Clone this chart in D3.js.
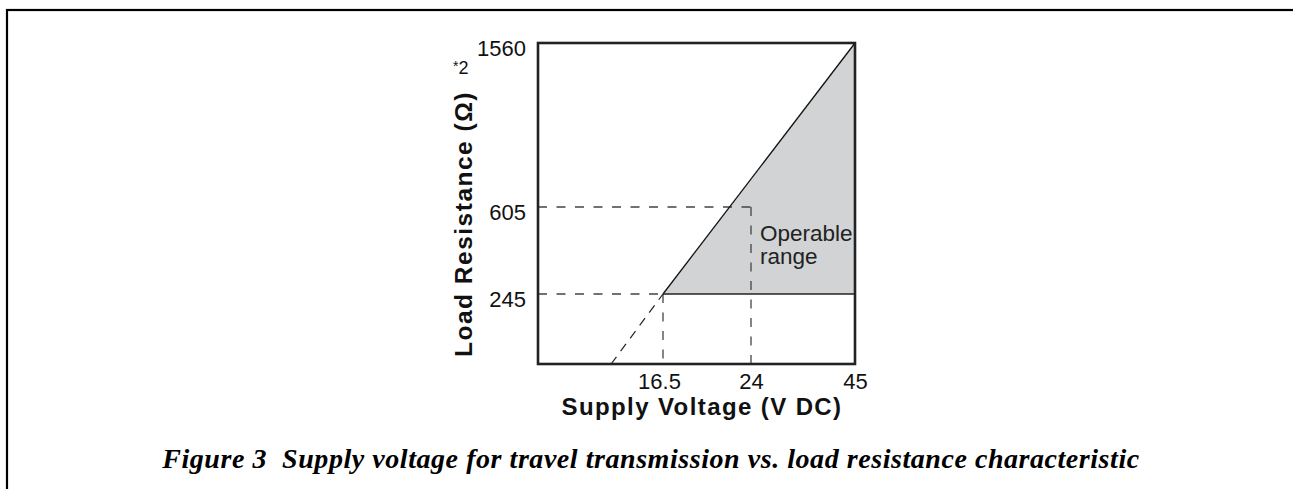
<!DOCTYPE html>
<html>
<head>
<meta charset="utf-8">
<script src="https://cdn.jsdelivr.net/npm/d3@7"></script>
<style>
  body { margin: 0; background: #fff; }
  svg { display: block; }
  .tick text { font-family: "Liberation Sans", Arial, sans-serif; }
  .caption { white-space: pre; }
</style>
</head>
<body>
<svg id="chart" width="1293" height="489"></svg>
<script>
// values (axes are schematic, not linear)
const voltTicks = [16.5, 24, 45];
const resTicks = [245, 605, 1560];
const solidLine = [[16.5, 245], [45, 1560]];
const dashExt = [[13.8, 0], [16.5, 245]];
const operable = [[16.5, 245], [45, 1560], [45, 245]];
const guideH = [[10, 605, 24], [10, 245, 16.5]];  // from x0 to x1 at R
const guideV = [[24, 605], [16.5, 245]];          // down to R=0

const svg = d3.select('#chart');

// outer frame
svg.append('rect')
  .attr('x', 7).attr('y', 10)
  .attr('width', 1320).attr('height', 520)
  .attr('fill', 'none').attr('stroke', '#000').attr('stroke-width', 2.2);

// piecewise scales, one segment between each labelled value
const x = d3.scaleLinear().domain([10, 16.5, 24, 45]).range([538, 663, 751, 855]);
const y = d3.scaleLinear().domain([0, 245, 605, 1560]).range([364, 294, 207, 43]);

const g = svg.append('g');

g.append('path')
  .datum(operable)
  .attr('d', d3.line().x(d => x(d[0])).y(d => y(d[1])))
  .attr('fill', '#d1d3d4');

const line = d3.line().x(d => x(d[0])).y(d => y(d[1]));

// dashed guides
const dash = '9,9.5';
guideH.forEach(d => {
  g.append('line')
    .attr('x1', x(d[0])).attr('x2', x(d[2]))
    .attr('y1', y(d[1])).attr('y2', y(d[1]))
    .attr('stroke', '#444').attr('stroke-width', 1.3).attr('stroke-dasharray', dash);
});
guideV.forEach(d => {
  g.append('line')
    .attr('x1', x(d[0])).attr('x2', x(d[0]))
    .attr('y1', y(d[1])).attr('y2', y(0))
    .attr('stroke', '#444').attr('stroke-width', 1.3).attr('stroke-dasharray', dash);
});
g.append('path').datum(dashExt).attr('d', line)
  .attr('fill', 'none').attr('stroke', '#222').attr('stroke-width', 1.2)
  .attr('stroke-dasharray', '9,7');

// boundary lines
g.append('path').datum(solidLine).attr('d', line)
  .attr('fill', 'none').attr('stroke', '#111').attr('stroke-width', 1.3);
g.append('line')
  .attr('x1', x(16.5)).attr('x2', x(45))
  .attr('y1', y(245)).attr('y2', y(245))
  .attr('stroke', '#222').attr('stroke-width', 1.5);

// plot box
g.append('rect')
  .attr('x', x(10)).attr('y', y(1560))
  .attr('width', x(45) - x(10)).attr('height', y(0) - y(1560))
  .attr('fill', 'none').attr('stroke', '#222').attr('stroke-width', 2.6);

// axes (labels only)
const xAxis = g.append('g')
  .attr('transform', 'translate(0,' + y(0) + ')')
  .call(d3.axisBottom(x).tickValues(voltTicks).tickSize(0).tickPadding(0).tickFormat(d => d));
xAxis.select('.domain').remove();
xAxis.selectAll('text')
  .attr('y', 25).attr('dy', 0)
  .attr('font-size', 22).attr('fill', '#111')
  .attr('dx', d => d === 16.5 ? -4 : 0);

const yAxis = g.append('g')
  .attr('transform', 'translate(' + x(10) + ',0)')
  .call(d3.axisLeft(y).tickValues(resTicks).tickSize(0).tickPadding(12).tickFormat(d => d));
yAxis.select('.domain').remove();
yAxis.selectAll('text')
  .attr('dy', '0.55em')
  .attr('font-size', 22).attr('fill', '#111');

// axis titles
svg.append('text')
  .attr('x', 702).attr('y', 415)
  .attr('text-anchor', 'middle')
  .attr('font-family', '"Liberation Sans", Arial, sans-serif')
  .attr('font-weight', 'bold').attr('font-size', 24).attr('letter-spacing', 1.4)
  .attr('fill', '#111')
  .text('Supply Voltage (V DC)');

svg.append('text')
  .attr('transform', 'translate(472,224) rotate(-90)')
  .attr('text-anchor', 'middle')
  .attr('font-family', '"Liberation Sans", Arial, sans-serif')
  .attr('font-weight', 'bold').attr('font-size', 24.5).attr('letter-spacing', 1.5)
  .attr('fill', '#111')
  .text('Load Resistance (Ω)');

const sup = svg.append('text')
  .attr('x', 453).attr('y', 74)
  .attr('font-family', '"Liberation Sans", Arial, sans-serif')
  .attr('fill', '#111');
sup.append('tspan').attr('font-size', 14).attr('dy', -3).text('*');
sup.append('tspan').attr('font-size', 18).attr('dy', 3).text('2');

// region label
const op = svg.append('text')
  .attr('font-family', '"Liberation Sans", Arial, sans-serif')
  .attr('font-size', 22.5).attr('fill', '#222');
op.append('tspan').attr('x', x(24) + 9).attr('y', y(605) + 34).text('Operable');
op.append('tspan').attr('x', x(24) + 9).attr('y', y(605) + 57).text('range');

// caption
svg.append('text')
  .attr('class', 'caption')
  .attr('x', 651).attr('y', 468)
  .attr('text-anchor', 'middle')
  .attr('font-family', '"Liberation Serif", "Times New Roman", serif')
  .attr('font-weight', 'bold').attr('font-style', 'italic')
  .attr('font-size', 28).attr('letter-spacing', 0.55).attr('fill', '#000')
  .text('Figure 3  Supply voltage for travel transmission vs. load resistance characteristic');
</script>
</body>
</html>
